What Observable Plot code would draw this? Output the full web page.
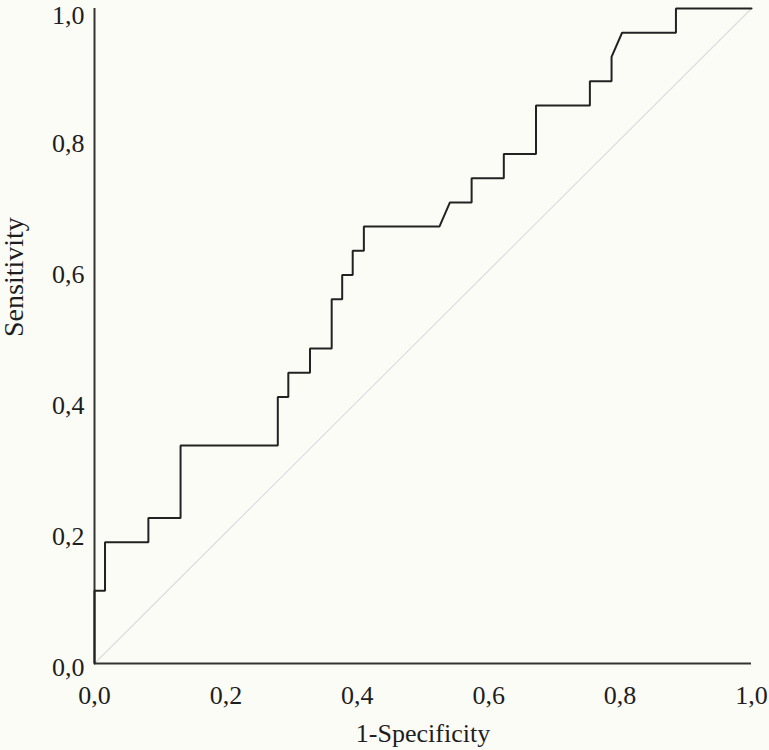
<!DOCTYPE html>
<html>
<head>
<meta charset="utf-8">
<script src="https://cdn.jsdelivr.net/npm/d3@7"></script>
<script src="https://cdn.jsdelivr.net/npm/@observablehq/plot@0.6"></script>
<style>
  html, body { margin: 0; padding: 0; background: #fcfcf7; }
  #chart svg { display: block; overflow: visible; }
  #chart svg text { font-family: "Liberation Serif", "Times New Roman", serif !important; fill: #1e1e1e; }
</style>
</head>
<body>
<div id="chart"></div>
<script>
// ROC curve vertices (1-Specificity, Sensitivity)
const fpr = [0, 0, 0.016, 0.016, 0.082, 0.082, 0.131, 0.131, 0.279, 0.279, 0.295, 0.295,
  0.328, 0.328, 0.361, 0.361, 0.377, 0.377, 0.393, 0.393, 0.410, 0.410, 0.525, 0.541,
  0.574, 0.574, 0.623, 0.623, 0.672, 0.672, 0.754, 0.754, 0.787, 0.787, 0.803, 0.885, 0.885, 1];
const tpr = [0, 0.111, 0.111, 0.185, 0.185, 0.222, 0.222, 0.333, 0.333, 0.407, 0.407, 0.444,
  0.444, 0.481, 0.481, 0.556, 0.556, 0.593, 0.593, 0.630, 0.630, 0.667, 0.667, 0.704,
  0.704, 0.741, 0.741, 0.778, 0.778, 0.852, 0.852, 0.889, 0.889, 0.926, 0.963, 0.963, 1, 1];
// Reference line
const refX = [0, 1];
const refY = [0, 1];
const tickValues = [0, 0.2, 0.4, 0.6, 0.8, 1.0];
const xLabel = "1-Specificity";
const yLabel = "Sensitivity";

const curve = fpr.map((x, i) => ({x, y: tpr[i]}));
const ref = refX.map((x, i) => ({x, y: refY[i]}));
const fmt = d => d.toFixed(1).replace(".", ",");
const yTicksLow = tickValues.filter(d => d < 1);
const yTicksTop = tickValues.filter(d => d >= 1);

const chart = Plot.plot({
  width: 769,
  height: 750,
  marginLeft: 94,
  marginRight: 18,
  marginTop: 8,
  marginBottom: 87,
  style: {background: "#fcfcf7", fontFamily: "'Liberation Serif', serif", fontSize: "26px", color: "#1e1e1e", overflow: "visible"},
  x: {domain: [0, 1]},
  y: {domain: [0, 1]},
  marks: [
    Plot.axisX(tickValues, {tickSize: 0, tickPadding: 22, tickFormat: fmt, fontSize: 26, label: null}),
    Plot.axisY(yTicksLow, {tickSize: 0, tickPadding: 10, dy: 4, tickFormat: fmt, fontSize: 26, label: null}),
    Plot.axisY(yTicksTop, {tickSize: 0, tickPadding: 10, dy: 7, tickFormat: fmt, fontSize: 26, label: null}),
    Plot.text([xLabel], {frameAnchor: "bottom", lineAnchor: "middle", dy: 70, fontSize: 26, text: d => d}),
    Plot.text([yLabel], {frameAnchor: "left", lineAnchor: "middle", rotate: -90, dx: -80, dy: 1, fontSize: 28, text: d => d}),
    Plot.line(ref, {x: "x", y: "y", stroke: "#dcdcdc", strokeWidth: 1.2}),
    Plot.ruleX([0], {stroke: "#333", strokeWidth: 2}),
    Plot.ruleY([0], {stroke: "#333", strokeWidth: 2}),
    Plot.line(curve, {x: "x", y: "y", stroke: "#222", strokeWidth: 2, strokeLinejoin: "miter"})
  ]
});
document.getElementById("chart").appendChild(chart);
</script>
</body>
</html>
